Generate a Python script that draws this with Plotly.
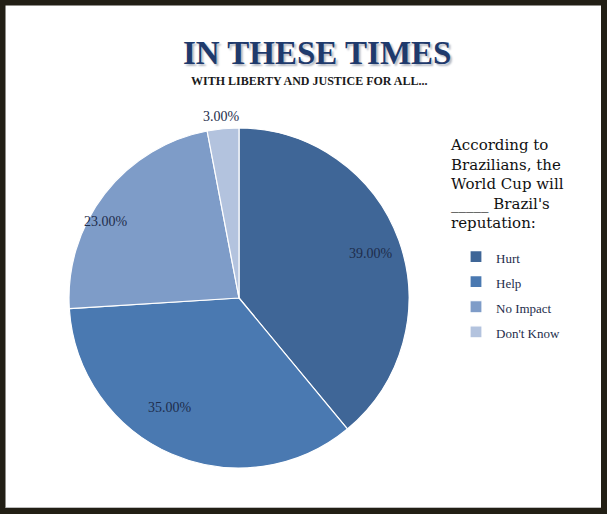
import math
import plotly.graph_objects as go

categories = ["Hurt", "Help", "No Impact", "Don't Know"]
values = [39, 35, 23, 3]
colors = ["#3F6697", "#4A79B1", "#7E9CC8", "#B3C3DE"]
title_text = "IN THESE TIMES"
subtitle_text = "WITH LIBERTY AND JUSTICE FOR ALL..."
question_text = "According to<br>Brazilians, the<br>World Cup will<br>_____ Brazil's<br>reputation:"

# label placement style (radial fraction of radius, angle nudge in degrees)
label_r = [0.82, 0.76, 0.90, 1.07]
label_nudge = [1, 9, -8, 0]

W, H = 607, 515
serif = "Liberation Serif, DejaVu Serif, serif"
text_col = "#1E2D4C"
CX, CY, R = 239, 298, 170

legend_labels = [f"<span style='font-size:13px'>{c}</span>" for c in categories]

fig = go.Figure()
fig.add_trace(go.Pie(
    labels=legend_labels,
    values=values,
    sort=False,
    direction="clockwise",
    rotation=0,
    marker=dict(colors=colors, line=dict(color="white", width=1.2)),
    textinfo="none",
    domain=dict(x=[(CX - R) / W, (CX + R) / W], y=[1 - (CY + R) / H, 1 - (CY - R) / H]),
    hoverinfo="label+value",
))

annotations = [
    dict(text=f"<b>{title_text}</b>", x=317 / W, y=1 - 53 / H, xref="paper", yref="paper",
         showarrow=False, font=dict(family=serif, size=33, color="#1F3A6C", shadow="2px 2px 2px #B5BAC4"),
         xanchor="center", yanchor="middle"),
    dict(text=f"<b>{subtitle_text}</b>", x=309 / W, y=1 - 81 / H, xref="paper", yref="paper",
         showarrow=False, font=dict(family=serif, size=12, color="#1A1A1A"), xanchor="center", yanchor="middle"),
    dict(text=question_text, x=448 / W, y=1 - 134 / H, xref="paper", yref="paper", align="left",
         showarrow=False, font=dict(family="DejaVu Serif, serif", size=15, color="#111111"),
         xanchor="left", yanchor="top"),
]

total = sum(values)
cum = 0
for v, rf, nd in zip(values, label_r, label_nudge):
    mid = (cum + v / 2) / total * 360 + nd
    cum += v
    th = math.radians(mid)
    px = CX + rf * R * math.sin(th)
    py = CY - rf * R * math.cos(th)
    annotations.append(dict(text=f"{v:.2f}%", x=px / W, y=1 - py / H, xref="paper", yref="paper",
                            showarrow=False, xanchor="center", yanchor="middle",
                            font=dict(family=serif, size=14, color=text_col)))

fig.update_layout(
    width=W, height=H,
    margin=dict(l=0, r=0, t=0, b=0),
    paper_bgcolor="white",
    plot_bgcolor="white",
    showlegend=True,
    legend=dict(x=456 / W, y=1 - 239 / H, xanchor="left", yanchor="top",
                font=dict(family=serif, size=17, color=text_col),
                bgcolor="rgba(0,0,0,0)", itemclick=False),
    annotations=annotations,
    shapes=[
        dict(type="line", xref="paper", yref="paper", x0=6 / W, x1=601 / W, y0=1 - 507.5 / H, y1=1 - 507.5 / H,
             line=dict(color="#BDBDBD", width=1)),
        dict(type="rect", xref="paper", yref="paper", x0=2.5 / W, x1=604 / W, y0=1 - 511 / H, y1=1 - 2.5 / H,
             line=dict(color="#221F15", width=6), fillcolor="rgba(0,0,0,0)"),
    ],
)

fig.write_html("out.html", config={"displayModeBar": False},
               post_script="document.body.style.margin='0';document.body.style.overflow='hidden';")
